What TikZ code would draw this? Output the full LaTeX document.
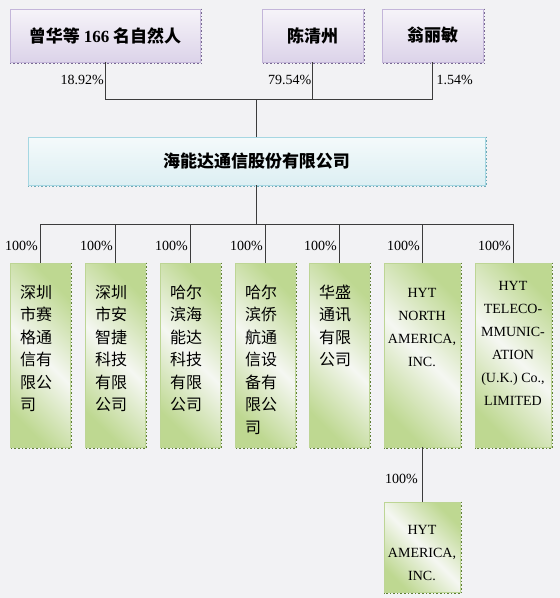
\documentclass[tikz,border=0pt]{standalone}
\usepackage{fontspec}
\setmainfont{Liberation Serif}
\newfontfamily\cjk{Noto Sans CJK SC}
\definecolor{bgc}{RGB}{242,242,244}
\definecolor{linegray}{RGB}{60,60,60}
\definecolor{topborder}{RGB}{196,182,218}
\definecolor{toptop}{RGB}{246,244,249}
\definecolor{topbot}{RGB}{220,211,233}
\definecolor{topshadow}{RGB}{120,105,145}
\definecolor{mainborder}{RGB}{166,215,226}
\definecolor{maintop}{RGB}{244,250,251}
\definecolor{mainbot}{RGB}{221,239,243}
\definecolor{mainshadow}{RGB}{110,168,181}
\definecolor{greenborder}{RGB}{189,213,149}
\definecolor{greenc}{RGB}{190,216,145}
\definecolor{greenm}{RGB}{245,247,242}
\definecolor{greenshadow}{RGB}{95,127,53}
\begin{document}
\begin{tikzpicture}[x=1pt,y=-1pt,
  conn/.style={draw=linegray, line width=0.9pt},
  pct/.style={font=\fontsize{14}{14}\selectfont, inner sep=0pt},
  topbox/.style={draw=topborder, line width=0.8pt, top color=toptop, bottom color=topbot, font=\cjk\bfseries\fontsize{17}{17}\selectfont, inner sep=0pt, minimum height=53pt},
  mainbox/.style={draw=mainborder, line width=0.8pt, top color=maintop, bottom color=mainbot, font=\cjk\bfseries\fontsize{17}{17}\selectfont, inner sep=0pt, minimum height=48pt, minimum width=457pt},
  subbox/.style={draw=greenborder, line width=0.8pt, left color=greenc, right color=greenc, middle color=greenm, shading angle=135, inner sep=0pt, minimum height=184pt},
  cntext/.style={anchor=north, align=left, inner sep=0pt, font=\cjk\fontsize{16}{22.5}\selectfont},
  entext/.style={anchor=north, align=center, inner sep=0pt, font=\fontsize{14}{23}\selectfont},
  shadowline/.style={dotted, line width=1.6pt}
]
\fill[bgc] (0,0) rectangle (560,598);
\useasboundingbox (0,0) rectangle (560,598);

% top level
\node[topbox, minimum width=190pt] (p1) at (105,35.5) {曾华等 {\normalfont\bfseries 166} 名自然人};
\node[topbox, minimum width=101pt] (p2) at (312.5,35.5) {陈清州};
\node[topbox, minimum width=101pt] (p3) at (432.5,35.5) {翁丽敏};
\foreach \n in {p1,p2,p3}{
  \draw[shadowline, topshadow] ([xshift=1pt]\n.north east) -- ([xshift=1pt,yshift=-1pt]\n.south east) -- ([yshift=-1pt]\n.south west);
}

\node[mainbox] (m) at (256.5,161) {海能达通信股份有限公司};
\draw[shadowline, mainshadow] ([xshift=1pt]m.north east) -- ([xshift=1pt,yshift=-1pt]m.south east) -- ([yshift=-1pt]m.south west);

\coordinate (j1) at (256,99);
\coordinate (pa) at (0,80);
\draw[conn] (p1.south) -- (p1.south |- j1) -- (p3.south |- j1) -- (p3.south);
\draw[conn] (p2.south) -- (p2.south |- j1);
\draw[conn] (m.north |- j1) -- (m.north);
\node[pct, anchor=east] (q1) at ([xshift=-1pt]p1.south |- pa) {18.92\%};
\node[pct, anchor=east] (q2) at ([xshift=-1pt]p2.south |- pa) {79.54\%};
\node[pct, anchor=west] (q3) at ([xshift=4pt]p3.south |- pa) {1.54\%};

% subsidiaries
\node[subbox, minimum width=60pt] (c1) at (40,355) {};
\node[subbox, minimum width=60pt] (c2) at (115,355) {};
\node[subbox, minimum width=60pt] (c3) at (190,355) {};
\node[subbox, minimum width=60pt] (c4) at (265,355) {};
\node[subbox, minimum width=60pt] (c5) at (339,355) {};
\node[subbox, minimum width=76pt] (c6) at (422,355) {};
\node[subbox, minimum width=76pt] (c7) at (513,355) {};
\node[subbox, minimum width=76pt, minimum height=90pt] (c8) at (422,547) {};
\foreach \n in {c1,c2,c3,c4,c5,c6,c7,c8}{
  \draw[shadowline, greenshadow] ([xshift=1pt]\n.north east) -- ([xshift=1pt,yshift=-1pt]\n.south east) -- ([yshift=-1pt]\n.south west);
}

\node[cntext] (t1) at ([xshift=-4pt,yshift=-22pt]c1.north) {深圳\\市赛\\格通\\信有\\限公\\司};
\node[cntext] (t2) at ([xshift=-4pt,yshift=-22pt]c2.north) {深圳\\市安\\智捷\\科技\\有限\\公司};
\node[cntext] (t3) at ([xshift=-4pt,yshift=-22pt]c3.north) {哈尔\\滨海\\能达\\科技\\有限\\公司};
\node[cntext] (t4) at ([xshift=-4pt,yshift=-22pt]c4.north) {哈尔\\滨侨\\航通\\信设\\备有\\限公\\司};
\node[cntext] (t5) at ([xshift=-4pt,yshift=-22pt]c5.north) {华盛\\通讯\\有限\\公司};
\node[entext] (t6) at ([yshift=-26pt]c6.north) {HYT\\NORTH\\AMERICA,\\INC.};
\node[entext] (t7) at ([yshift=-19pt]c7.north) {HYT\\TELECO-\\MMUNIC-\\ATION\\(U.K.) Co.,\\LIMITED};
\node[entext] (t8) at ([yshift=-24pt]c8.north) {HYT\\AMERICA,\\INC.};

\coordinate (j2) at (256,224);
\coordinate (pb) at (0,246);
\draw[conn] (m.south) -- (m.south |- j2);
\draw[conn] (c1.north |- j2) -- (c7.north |- j2);
\foreach \n in {c1,c2,c3,c4,c5,c6,c7}{
  \draw[conn] (\n.north |- j2) -- (\n.north);
}
\foreach \n/\k in {c1/r1,c2/r2,c3/r3,c4/r4,c5/r5,c6/r6,c7/r7}{
  \node[pct, anchor=east] (\k) at ([xshift=-2pt]\n.north |- pb) {100\%};
}
\draw[conn] (c6.south) -- (c8.north);
\coordinate (pc) at (0,479);
\node[pct, anchor=east] (r8) at ([xshift=-4pt]c6.south |- pc) {100\%};
\end{tikzpicture}
\end{document}
